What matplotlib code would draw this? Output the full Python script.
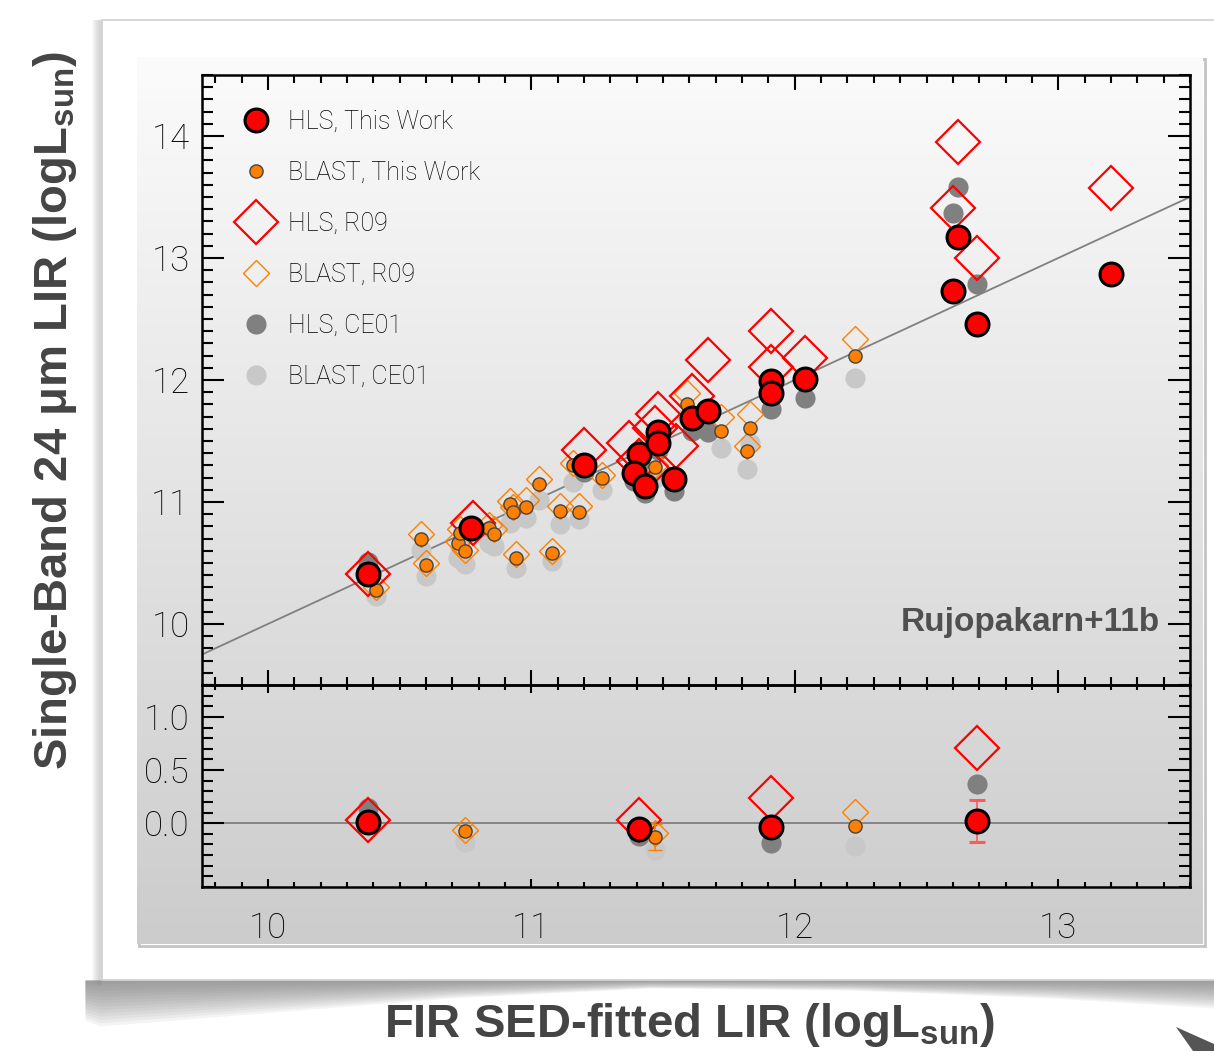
import numpy as np
import matplotlib
matplotlib.use("Agg")
import matplotlib.pyplot as plt
from matplotlib.ticker import MultipleLocator, FixedLocator

# ---- data: top panel (single-band 24um LIR vs FIR SED-fitted LIR) ----
hls_tw_x = [10.38, 10.77, 11.20, 11.41, 11.39, 11.43, 11.48, 11.48, 11.54, 11.61,
            11.67, 11.91, 11.91, 12.04, 12.60, 12.62, 12.69, 13.20]
hls_tw_y = [10.41, 10.79, 11.30, 11.39, 11.24, 11.13, 11.57, 11.48, 11.19, 11.69,
            11.75, 11.99, 11.89, 12.01, 12.73, 13.17, 12.46, 12.87]

hls_r09_x = [10.38, 10.78, 11.20, 11.37, 11.41, 11.44, 11.47, 11.48, 11.55, 11.61,
             11.67, 11.91, 11.91, 12.04, 12.60, 12.62, 12.69, 13.20]
hls_r09_y = [10.41, 10.83, 11.43, 11.48, 11.34, 11.28, 11.61, 11.72, 11.46, 11.87,
             12.16, 12.40, 12.11, 12.18, 13.41, 13.95, 13.00, 13.57]

hls_ce_x = [10.38, 10.77, 11.20, 11.41, 11.39, 11.43, 11.48, 11.54, 11.61, 11.67,
            11.91, 12.04, 12.60, 12.62, 12.69]
hls_ce_y = [10.51, 10.76, 11.25, 11.32, 11.17, 11.07, 11.43, 11.09, 11.58, 11.57,
            11.76, 11.85, 13.37, 13.58, 12.79]

blast_x = [10.41, 10.58, 10.60, 10.72, 10.75, 10.73, 10.84, 10.86, 10.92, 10.93,
           10.98, 10.94, 11.03, 11.11, 11.18, 11.08, 11.16, 11.27, 11.47, 11.59,
           11.72, 11.83, 11.82, 12.23]
blast_tw_y = [10.28, 10.70, 10.48, 10.66, 10.60, 10.75, 10.79, 10.74, 10.98, 10.92,
              10.96, 10.54, 11.15, 10.93, 10.92, 10.58, 11.30, 11.20, 11.29, 11.80,
              11.58, 11.61, 11.42, 12.20]
blast_r09_y = [10.30, 10.74, 10.50, 10.68, 10.61, 10.78, 10.81, 10.78, 11.01, 10.96,
               11.02, 10.57, 11.19, 10.97, 10.97, 10.60, 11.32, 11.22, 11.30, 11.89,
               11.70, 11.72, 11.46, 12.34]
blast_ce_y = [10.23, 10.61, 10.39, 10.54, 10.49, 10.62, 10.66, 10.64, 10.83, 10.86,
              10.87, 10.46, 11.02, 10.82, 10.86, 10.52, 11.16, 11.10, 11.20, 11.70,
              11.44, 11.48, 11.27, 12.02]

# ---- data: bottom panel (residuals) ----
res_hls_x = [10.38, 11.41, 11.91, 12.69]
res_hls_tw = [0.01, -0.05, -0.04, 0.02]
res_hls_r09 = [0.03, 0.03, 0.24, 0.71]
res_hls_ce = [0.14, -0.12, -0.19, 0.37]
res_hls_err = [0.0, 0.0, 0.0, 0.20]

res_blast_x = [10.75, 11.47, 12.23]
res_blast_tw = [-0.07, -0.13, -0.03]
res_blast_r09 = [-0.06, -0.09, 0.11]
res_blast_ce = [-0.18, -0.25, -0.21]
res_blast_err = [0.05, 0.12, 0.0]

res_yticks = [0.0, 0.5, 1.0]

W, H = 1214, 1051
RED, ORANGE, DGRAY, LGRAY = "#ff0000", "#ff8000", "#808080", "#c8c8c8"
LABELFONT = dict(family="Liberation Sans", weight="bold", color="#444444")

plt.rcParams["mathtext.fontset"] = "custom"
plt.rcParams["mathtext.rm"] = "Liberation Sans:bold"

fig = plt.figure(figsize=(W / 100, H / 100), dpi=100)
fig.patch.set_facecolor("white")

# ---- background "card" decoration (pixel coords) ----
bg = fig.add_axes([0, 0, 1, 1], zorder=-10)
bg.axis("off")

# shadow under the card
sx = np.array([85, 100, 250, 450, 650, 850, 1050, 1214])
sb = np.array([1020, 1026, 1014, 998, 988, 990, 998, 1008])
for k in range(14):
    f = 1 - k / 14
    bg.fill_between(sx, 980, 980 + (sb - 980) * f, color="#707070", alpha=0.07, lw=0)
# shadow on the left edge of the card
for k in range(8):
    bg.fill_between([92 + k, 102], 20, 985, color="#909090", alpha=0.05, lw=0)
bg.add_patch(plt.Rectangle((102, 20), 1130, 960, facecolor="white",
                           edgecolor="#cfcfcf", lw=1.2))
# inner gradient panel
grad = np.linspace(0.985, 0.80, 256).reshape(-1, 1)
bg.add_patch(plt.Rectangle((139, 59), 1066, 887, facecolor="none",
                           edgecolor="#c4c4c4", lw=2.0))
bg.imshow(np.dstack([grad, grad, grad]), extent=(137, 1203, 944, 57),
          aspect="auto", zorder=2)
# page corner
bg.add_patch(plt.Polygon([(1176, 1027), (1214, 1044), (1214, 1051), (1193, 1051)],
                         color="#555555", lw=0))
bg.set_xlim(0, W)
bg.set_ylim(H, 0)

# ---- axes ----
L, R = 202, 1190
ax = fig.add_axes([L / W, 1 - 685 / H, (R - L) / W, 610 / H])
axr = fig.add_axes([L / W, 1 - 887 / H, (R - L) / W, 202 / H], sharex=ax)
for a in (ax, axr):
    a.patch.set_alpha(0)
    for s in a.spines.values():
        s.set_linewidth(1.8)

xlim = (9.75, 13.5)
ax.plot(xlim, xlim, color="#808080", lw=1.3, zorder=1)
axr.axhline(0, color="#808080", lw=1.3, zorder=1)

ax.plot(blast_x, blast_ce_y, "o", ms=14.5, color=LGRAY, mew=0, label="BLAST, CE01", zorder=2)
ax.plot(hls_ce_x, hls_ce_y, "o", ms=14.5, color=DGRAY, mew=0, label="HLS, CE01", zorder=3)
ax.plot(blast_x, blast_r09_y, "D", ms=13.7, mfc="none", mec=ORANGE, mew=1.0,
        label="BLAST, R09", zorder=4)
ax.plot(hls_r09_x, hls_r09_y, "D", ms=22, mfc="none", mec=RED, mew=1.6,
        label="HLS, R09", zorder=5)
ax.plot(blast_x, blast_tw_y, "o", ms=9.5, mfc=ORANGE, mec="#444444", mew=1.0,
        label="BLAST, This Work", zorder=6)
ax.plot(hls_tw_x, hls_tw_y, "o", ms=16.5, mfc=RED, mec="black", mew=2.2,
        label="HLS, This Work", zorder=7)

# residual panel
axr.plot(res_blast_x, res_blast_ce, "o", ms=14.5, color=LGRAY, mew=0, zorder=2)
axr.plot(res_hls_x, res_hls_ce, "o", ms=14.5, color=DGRAY, mew=0, zorder=3)
axr.plot(res_blast_x, res_blast_r09, "D", ms=13.7, mfc="none", mec=ORANGE, mew=1.0, zorder=4)
axr.plot(res_hls_x, res_hls_r09, "D", ms=22, mfc="none", mec=RED, mew=1.6, zorder=5)
axr.errorbar(res_blast_x, res_blast_tw, yerr=res_blast_err, fmt="o", ms=9.5,
             mfc=ORANGE, mec="#444444", mew=1.0, ecolor=ORANGE, elinewidth=1.2,
             capsize=5, capthick=1.2, zorder=6)
axr.errorbar(res_hls_x, res_hls_tw, yerr=res_hls_err, fmt="o", ms=16.5,
             mfc=RED, mec="black", mew=2.2, ecolor="#ff5a5a", elinewidth=1.2,
             capsize=6, capthick=1.2, zorder=7)

ax.set_xlim(*xlim)
ax.set_ylim(9.5, 14.5)
axr.set_ylim(-0.6, 1.3)

ax.xaxis.set_major_locator(MultipleLocator(1))
ax.xaxis.set_minor_locator(MultipleLocator(0.1))
ax.yaxis.set_major_locator(MultipleLocator(1))
ax.yaxis.set_minor_locator(MultipleLocator(0.1))
axr.yaxis.set_major_locator(FixedLocator(res_yticks))
axr.yaxis.set_minor_locator(MultipleLocator(0.1))
axr.yaxis.set_major_formatter(plt.FormatStrFormatter("%.1f"))

for a, xl in ((ax, (11, 6)), (axr, (6, 3.5))):
    a.tick_params(which="both", direction="in", top=True, right=True, width=1.5,
                  labelsize=25, colors="black")
    a.tick_params(axis="y", which="major", length=16, pad=9)
    a.tick_params(axis="y", which="minor", length=8)
    a.tick_params(axis="x", which="major", length=xl[0], pad=18)
    a.tick_params(axis="x", which="minor", length=xl[1])
    for t in a.get_xticklabels() + a.get_yticklabels():
        t.set_fontfamily("Roboto")
        t.set_fontweight("light")
ax.tick_params(labelbottom=False)

handles, labels = ax.get_legend_handles_labels()
order = ["HLS, This Work", "BLAST, This Work", "HLS, R09", "BLAST, R09",
         "HLS, CE01", "BLAST, CE01"]
hmap = dict(zip(labels, handles))
ax.legend([hmap[k] for k in order], order, loc="upper left", frameon=False,
          numpoints=1, handlelength=1.5, handletextpad=0.55, labelspacing=1.08,
          borderaxespad=0.6, borderpad=0.8,
          prop=dict(family="Roboto", weight="light", size=18))

ax.text(0.9696, 0.103, "Rujopakarn+11b", transform=ax.transAxes, ha="right",
        va="center", fontsize=24, fontweight="bold", family="Liberation Sans",
        color="#505050")

fig.text(55 / W, 1 - 410 / H, r"Single-Band 24 μm LIR (logL$_{\rm sun}$)",
         rotation=90, ha="center", va="center", fontsize=34, **LABELFONT)
fig.text(690 / W, 1 - 1025 / H, r"FIR SED-fitted LIR (logL$_{\rm sun}$)",
         ha="center", va="center", fontsize=34, **LABELFONT)

fig.savefig("out.png", dpi=100)
